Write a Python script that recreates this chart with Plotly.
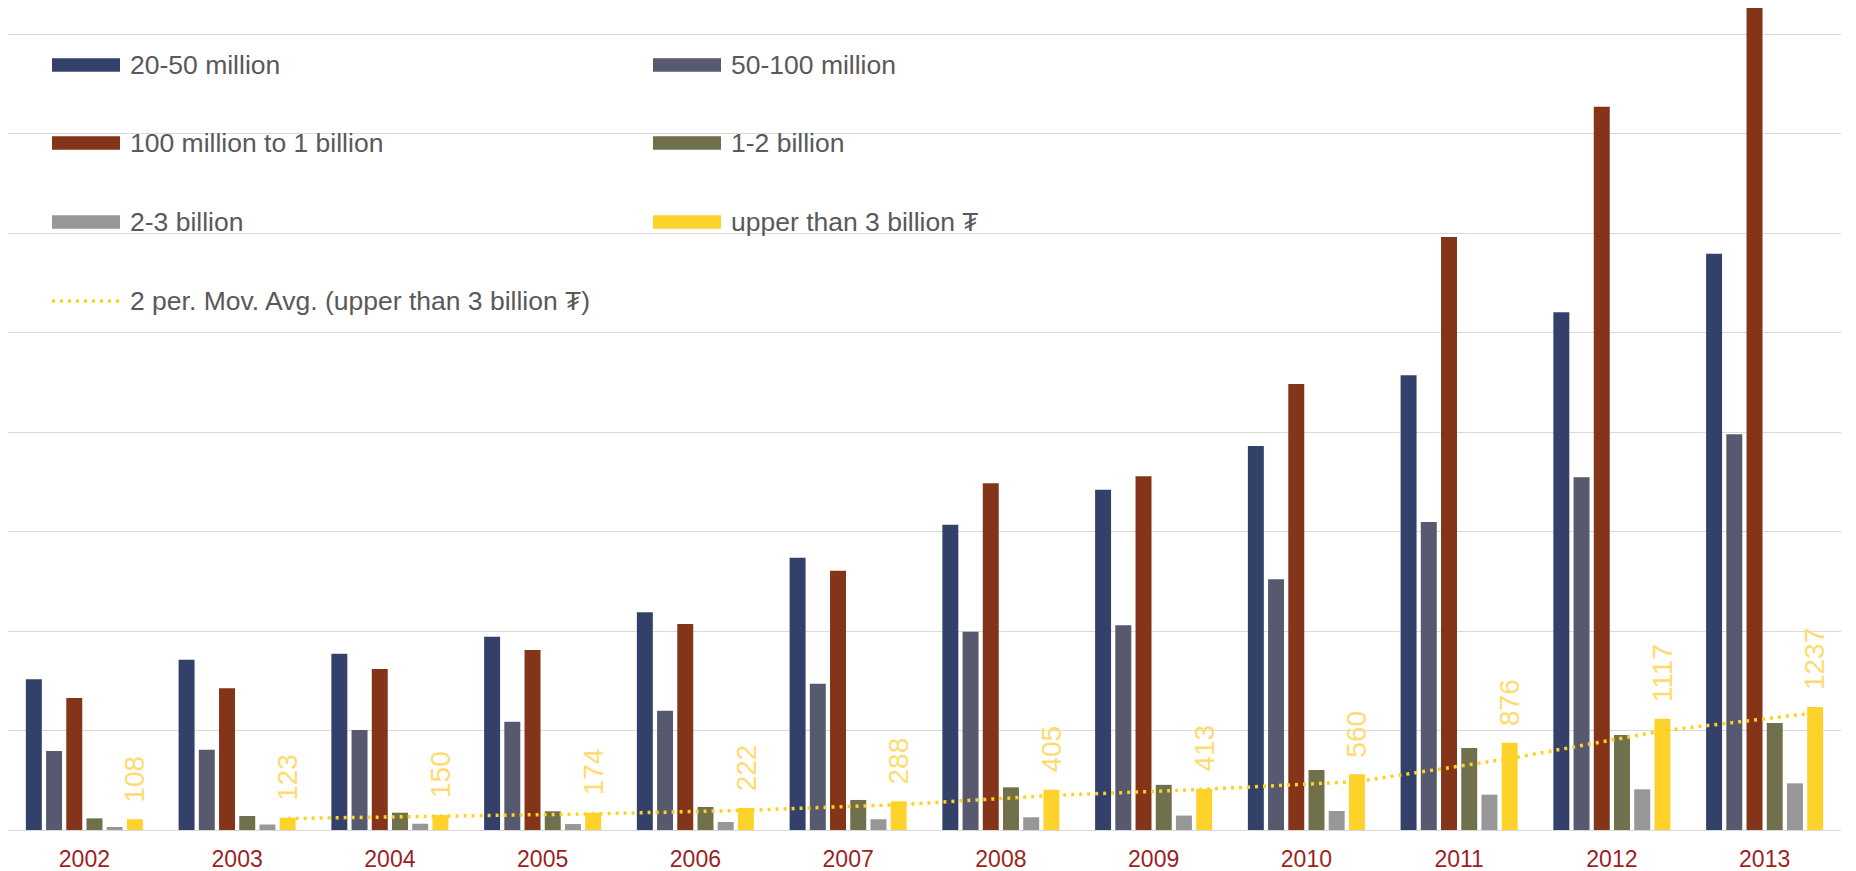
import plotly.graph_objects as go

# ---------------- data ----------------
years = ["2002", "2003", "2004", "2005", "2006", "2007",
         "2008", "2009", "2010", "2011", "2012", "2013"]

names = ["20-50 million", "50-100 million", "100 million to 1 billion",
         "1-2 billion", "2-3 billion", "upper than 3 billion \u20ae"]

s_20_50m = [1515, 1711, 1772, 1943, 2188, 2737, 3068, 3420, 3859, 4570, 5203, 5792]
s_50_100m = [794, 807, 1005, 1089, 1199, 1470, 1993, 2057, 2520, 3095, 3545, 3977]
s_100m_1b = [1327, 1424, 1618, 1809, 2070, 2606, 3484, 3555, 4482, 5960, 7269, 8261]
s_1_2b = [117, 141, 174, 188, 231, 302, 429, 454, 603, 824, 955, 1075]
s_2_3b = [30, 55, 63, 60, 80, 108, 128, 145, 191, 355, 409, 469]
s_over_3b = [108, 123, 150, 174, 222, 288, 405, 413, 560, 876, 1117, 1237]

ma_name = "2 per. Mov. Avg. (upper than 3 billion \u20ae)"

# ---------------- style ----------------
colors = ["#33416A", "#575A6E", "#843418", "#71704C", "#979797", "#FDD22B"]
label_color = "#FFDB6E"
ma_color = "#FFD21F"
year_color = "#9C1F24"
legend_text_color = "#595959"
grid_color = "#D9D9D9"
FONT = "Liberation Sans, Arial, DejaVu Sans, sans-serif"

W, H = 1848, 863
L, R, T, B = 0, 15, 0, 41
BARGAP = 0.206
BARGROUPGAP = 0.21

series = [s_20_50m, s_50_100m, s_100m_1b, s_1_2b, s_2_3b, s_over_3b]
xs = list(range(len(years)))
n = len(series)

fig = go.Figure()
for name, vals, col in zip(names, series, colors):
    fig.add_trace(go.Bar(x=xs, y=vals, name=name, marker=dict(color=col, line=dict(width=0)),
                         showlegend=False))

# position of the last (yellow) bar within its group, in data units
slot = (1 - BARGAP) / n
yellow_off = -(1 - BARGAP) / 2 + slot * (n - 0.5)

# 2-period moving average trendline of the last series
ma_x = [i + yellow_off for i in xs[1:]]
ma_y = [(s_over_3b[i - 1] + s_over_3b[i]) / 2 for i in xs[1:]]
fig.add_trace(go.Scatter(x=ma_x, y=ma_y, mode="lines", name=ma_name, showlegend=False,
                         line=dict(color=ma_color, width=3.5, dash="3px,5px")))

annotations = []
# data labels on the yellow bars (rotated)
for i, v in zip(xs, s_over_3b):
    annotations.append(dict(x=i + yellow_off, y=v, xref="x", yref="y", text=str(v),
                            textangle=-90, showarrow=False, yanchor="bottom", xanchor="center",
                            yshift=15, font=dict(family=FONT, size=28, color=label_color)))

# ---------------- manual legend (Excel style, two columns) ----------------
plot_w = W - L - R
plot_h = H - T - B


def px_x(p):
    return (p - L) / plot_w


def px_y(p):
    return (H - B - p) / plot_h


shapes = []
rows_y = [57, 135, 214, 293]
cols_x = [44, 645]
sw_w, sw_h, txt_gap = 68, 13.4, 8
entries = [(names[k], colors[k], "bar") for k in range(n)] + [(ma_name, ma_color, "line")]
for k, (nm, col, kind) in enumerate(entries):
    r, c = divmod(k, 2)
    x0 = cols_x[c]
    yc = rows_y[r]
    if kind == "bar":
        shapes.append(dict(type="rect", xref="paper", yref="paper",
                           x0=px_x(x0), x1=px_x(x0 + sw_w),
                           y0=px_y(yc - sw_h / 2), y1=px_y(yc + sw_h / 2),
                           fillcolor=col, line=dict(width=0), layer="above"))
    else:
        shapes.append(dict(type="line", xref="paper", yref="paper",
                           x0=px_x(x0), x1=px_x(x0 + sw_w), y0=px_y(yc), y1=px_y(yc),
                           line=dict(color=col, width=3.5, dash="3px,5px"), layer="above"))
    annotations.append(dict(x=px_x(x0 + sw_w + txt_gap), y=px_y(yc), xref="paper", yref="paper",
                            text=nm, showarrow=False, xanchor="left", yanchor="middle",
                            font=dict(family=FONT, size=26.5, color=legend_text_color)))

# right border line of the chart area
shapes.append(dict(type="line", xref="paper", yref="paper",
                   x0=px_x(1845), x1=px_x(1845), y0=-0.04, y1=1.0,
                   line=dict(color="#5A5A5A", width=1.5), layer="above"))

y_top = plot_h / 99.5 * 1000

fig.update_layout(
    width=W, height=H,
    margin=dict(l=L, r=R, t=T, b=B),
    paper_bgcolor="white", plot_bgcolor="white",
    barmode="group", bargap=BARGAP, bargroupgap=BARGROUPGAP,
    showlegend=False,
    annotations=annotations,
    shapes=shapes,
    xaxis=dict(range=[-0.5, len(years) - 0.5], tickmode="array", tickvals=xs, ticktext=years,
               showgrid=False, zeroline=False, showline=True, linecolor=grid_color, linewidth=1.3,
               ticks="", ticklabelstandoff=8,
               tickfont=dict(family=FONT, size=23, color=year_color)),
    yaxis=dict(range=[0, y_top], dtick=1000, showgrid=True, gridcolor=grid_color, gridwidth=1.3,
               zeroline=False, showticklabels=False, ticks=""),
)

fig.write_html("out.html")
